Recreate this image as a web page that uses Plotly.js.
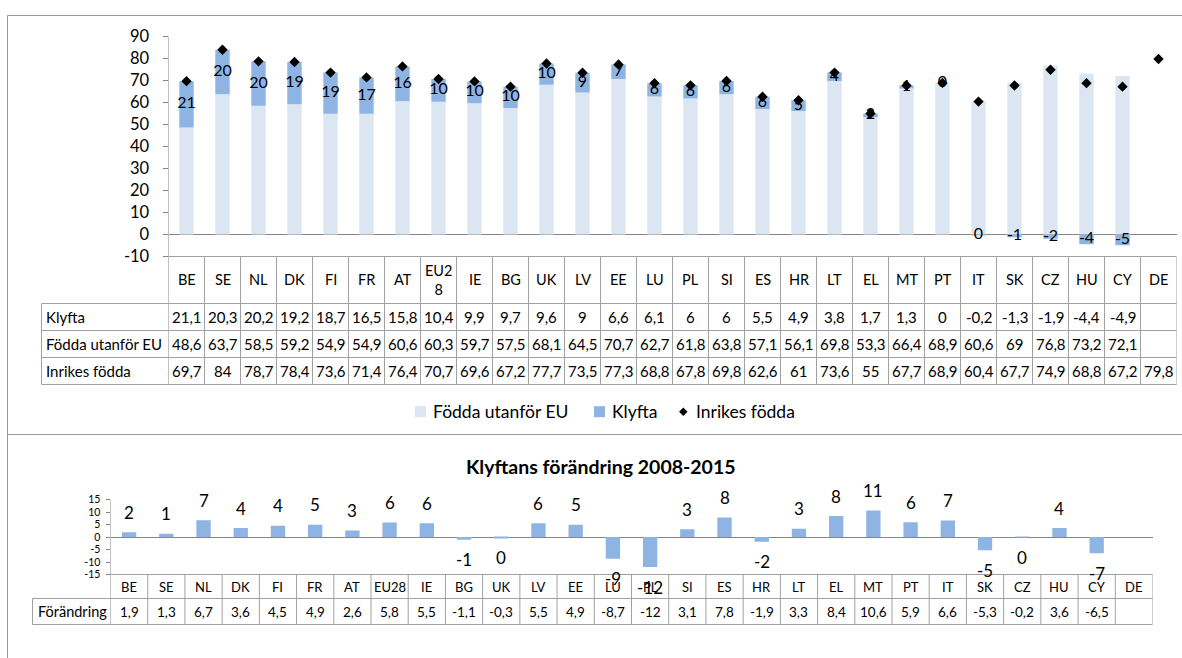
<!DOCTYPE html>
<html>
<head>
<meta charset="utf-8">
<script src="https://cdn.plot.ly/plotly-3.0.1.min.js"></script>
<style>
html,body{margin:0;padding:0;background:#fff;}
#chart{width:1182px;height:658px;}
</style>
</head>
<body>
<div id="chart"></div>
<script>
// ---------- DATA ----------
const countries = ['BE','SE','NL','DK','FI','FR','AT','EU28','IE','BG','UK','LV','EE','LU','PL','SI','ES','HR','LT','EL','MT','PT','IT','SK','CZ','HU','CY','DE'];
const topHeaderLabels = ['BE','SE','NL','DK','FI','FR','AT','EU2<br>8','IE','BG','UK','LV','EE','LU','PL','SI','ES','HR','LT','EL','MT','PT','IT','SK','CZ','HU','CY','DE'];
const bottomHeaderLabels = ['BE','SE','NL','DK','FI','FR','AT','EU28','IE','BG','UK','LV','EE','LU','PL','SI','ES','HR','LT','EL','MT','PT','IT','SK','CZ','HU','CY','DE'];

const klyfta         = [21.1,20.3,20.2,19.2,18.7,16.5,15.8,10.4,9.9,9.7,9.6,9,6.6,6.1,6,6,5.5,4.9,3.8,1.7,1.3,0,-0.2,-1.3,-1.9,-4.4,-4.9,null];
const foddaUtanforEU = [48.6,63.7,58.5,59.2,54.9,54.9,60.6,60.3,59.7,57.5,68.1,64.5,70.7,62.7,61.8,63.8,57.1,56.1,69.8,53.3,66.4,68.9,60.6,69,76.8,73.2,72.1,null];
const inrikesFodda   = [69.7,84,78.7,78.4,73.6,71.4,76.4,70.7,69.6,67.2,77.7,73.5,77.3,68.8,67.8,69.8,62.6,61,73.6,55,67.7,68.9,60.4,67.7,74.9,68.8,67.2,79.8];
const klyftaLabels   = ['21','20','20','19','19','17','16','10','10','10','10','9','7','6','6','6','6','5','4','2','1','0','0','-1','-2','-4','-5',''];

const forandring       = [1.9,1.3,6.7,3.6,4.5,4.9,2.6,5.8,5.5,-1.1,-0.3,5.5,4.9,-8.7,-12,3.1,7.8,-1.9,3.3,8.4,10.6,5.9,6.6,-5.3,-0.2,3.6,-6.5,null];
const forandringLabels = ['2','1','7','4','4','5','3','6','6','-1','0','6','5','-9','-12','3','8','-2','3','8','11','6','7','-5','0','4','-7',''];

const topTickVals = [-10,0,10,20,30,40,50,60,70,80,90];
const topTickText = ['-10','0','10','20','30','40','50','60','70','80','90'];
const bottomTickVals = [-15,-10,-5,0,5,10,15];
const bottomTickText = ['-15','-10','-5','0','5','10','15'];

const seriesNames = ['Födda utanför EU','Klyfta','Inrikes födda'];
const bottomRowName = 'Förändring';
const bottomTitle = 'Klyftans förändring 2008-2015';

// ---------- LAYOUT HELPERS ----------
const W = 1182, H = 658;
const px = x => x / W;
const py = y => 1 - y / H;
const FONT = 'Lato, "Open Sans", sans-serif';
const LINE = '#A0A0A0';
const AXIS = '#868686';
const LIGHT = '#DCE6F2';
const BLUE = '#8EB4E3';
const n = countries.length;
const fmt = v => (v === null || v === undefined) ? '' : String(v).replace('.', ',');

const TOP = {left:168.5, right:1176.5, top:36.5, bottom:256.5, rows:[256.5,303.5,330.5,357.5,384.5], labelLeft:41.5};
const BOT = {left:110.5, right:1152.5, top:499.5, bottom:574.5, rows:[574.5,598.5,624.5], labelLeft:32.5};

const shapes = [];
const annotations = [];

function pline(x0,y0,x1,y1,color){
  shapes.push({type:'line', xref:'paper', yref:'paper', x0:px(x0), y0:py(y0), x1:px(x1), y1:py(y1), line:{color:color||LINE, width:1}});
}

// outer frames
pline(7.5,15.5,1182,15.5,'#9A9A9A');
pline(7.5,15.5,7.5,658,'#9A9A9A');
pline(7.5,434.5,1182,434.5,'#9A9A9A');

// ---------- TOP TABLE ----------
for(let i=0;i<=n;i++){
  shapes.push({type:'line', xref:'x', yref:'paper', x0:i-0.5, x1:i-0.5,
    y0:py(i===0 ? TOP.top : TOP.rows[0]), y1:py(TOP.rows[4]), line:{color:i===0?AXIS:LINE, width:1}});
}
pline(TOP.left, TOP.rows[0], TOP.right, TOP.rows[0]);
for(let r=1;r<TOP.rows.length;r++) pline(TOP.labelLeft, TOP.rows[r], TOP.right, TOP.rows[r]);
pline(TOP.labelLeft, TOP.rows[1], TOP.labelLeft, TOP.rows[4]);

const topRowData = [klyfta, foddaUtanforEU, inrikesFodda];
const topRowNames = ['Klyfta','Födda utanför EU','Inrikes födda'];
countries.forEach((c,i)=>{
  annotations.push({xref:'x', yref:'paper', x:i, y:py((TOP.rows[0]+TOP.rows[1])/2), text:topHeaderLabels[i],
    showarrow:false, xanchor:'center', yanchor:'middle', font:{size:14.5, color:'#000'}});
  topRowData.forEach((arr,r)=>{
    annotations.push({xref:'x', yref:'paper', x:i, y:py((TOP.rows[r+1]+TOP.rows[r+2])/2), text:fmt(arr[i]),
      showarrow:false, xanchor:'center', yanchor:'middle', font:{size:15, color:'#000'}});
  });
});
topRowNames.forEach((nm,r)=>{
  annotations.push({xref:'paper', yref:'paper', x:px(44), y:py((TOP.rows[r+1]+TOP.rows[r+2])/2), text:nm,
    showarrow:false, xanchor:'left', yanchor:'middle', font:{size:15, color:'#000'}});
});

// ---------- TOP LEGEND ----------
const legY = 411.7;
shapes.push({type:'rect', xref:'paper', yref:'paper', x0:px(415), x1:px(426), y0:py(legY-5.5), y1:py(legY+5.5), fillcolor:LIGHT, line:{width:0}});
annotations.push({xref:'paper', yref:'paper', x:px(431), y:py(legY), text:seriesNames[0], showarrow:false, xanchor:'left', yanchor:'middle', font:{size:17.5,color:'#000'}});
shapes.push({type:'rect', xref:'paper', yref:'paper', x0:px(594), x1:px(605), y0:py(legY-5.5), y1:py(legY+5.5), fillcolor:BLUE, line:{width:0}});
annotations.push({xref:'paper', yref:'paper', x:px(610), y:py(legY), text:seriesNames[1], showarrow:false, xanchor:'left', yanchor:'middle', font:{size:17.5,color:'#000'}});
(function(){
  const cx=683.3, cy=legY, r=4.2;
  shapes.push({type:'path', xref:'paper', yref:'paper',
    path:`M${px(cx)},${py(cy-r)} L${px(cx+r)},${py(cy)} L${px(cx)},${py(cy+r)} L${px(cx-r)},${py(cy)} Z`,
    fillcolor:'#000', line:{width:0}});
})();
annotations.push({xref:'paper', yref:'paper', x:px(694), y:py(legY), text:seriesNames[2], showarrow:false, xanchor:'left', yanchor:'middle', font:{size:17.5,color:'#000'}});

// ---------- BOTTOM TITLE ----------
annotations.push({xref:'paper', yref:'paper', x:px(601), y:py(466), text:'<b>'+bottomTitle+'</b>', showarrow:false,
  xanchor:'center', yanchor:'middle', font:{size:19.5, color:'#000'}});

// ---------- BOTTOM TABLE ----------
for(let i=0;i<=n;i++){
  shapes.push({type:'line', xref:'x2', yref:'paper', x0:i-0.5, x1:i-0.5,
    y0:py(i===0 ? BOT.top : BOT.rows[0]), y1:py(BOT.rows[2]), line:{color:i===0?AXIS:LINE, width:1}});
}
pline(BOT.left, BOT.rows[0], BOT.right, BOT.rows[0]);
pline(BOT.labelLeft, BOT.rows[1], BOT.right, BOT.rows[1]);
pline(BOT.labelLeft, BOT.rows[2], BOT.right, BOT.rows[2]);
pline(BOT.labelLeft, BOT.rows[1], BOT.labelLeft, BOT.rows[2]);
countries.forEach((c,i)=>{
  annotations.push({xref:'x2', yref:'paper', x:i, y:py((BOT.rows[0]+BOT.rows[1])/2), text:bottomHeaderLabels[i],
    showarrow:false, xanchor:'center', yanchor:'middle', font:{size:13, color:'#000'}});
  annotations.push({xref:'x2', yref:'paper', x:i, y:py((BOT.rows[1]+BOT.rows[2])/2), text:fmt(forandring[i]),
    showarrow:false, xanchor:'center', yanchor:'middle', font:{size:13.5, color:'#000'}});
});
annotations.push({xref:'paper', yref:'paper', x:px(36), y:py((BOT.rows[1]+BOT.rows[2])/2), text:bottomRowName,
  showarrow:false, xanchor:'left', yanchor:'middle', font:{size:14.5, color:'#000'}});

// bottom data labels (outside end)
forandring.forEach((v,i)=>{
  if(v===null) return;
  annotations.push({xref:'x2', yref:'y2', x:i, y:v, text:forandringLabels[i], showarrow:false,
    xanchor:'center', yanchor:'middle', yshift: v>=0 ? 20 : -20, font:{size:17, color:'#000'}});
});

// ---------- TRACES ----------
const klyftaLabelY = klyfta.map((k,i)=> k===null ? null : (k>=0 ? foddaUtanforEU[i] + k/2 : k/2));
const traces = [
  {type:'bar', name:seriesNames[0], x:countries, y:foddaUtanforEU, xaxis:'x', yaxis:'y', width:0.4,
   marker:{color:LIGHT, line:{width:0}}},
  {type:'bar', name:seriesNames[1], x:countries, y:klyfta, xaxis:'x', yaxis:'y', width:0.4,
   marker:{color:BLUE, line:{width:0}}},
  {type:'scatter', mode:'markers', name:seriesNames[2], x:countries, y:inrikesFodda, xaxis:'x', yaxis:'y',
   marker:{symbol:'diamond', size:8, color:'#000'}},
  {type:'scatter', mode:'text', name:'Klyfta (etikett)', x:countries, y:klyftaLabelY, text:klyftaLabels,
   textposition:'middle center', xaxis:'x', yaxis:'y', cliponaxis:false, hoverinfo:'skip',
   textfont:{family:FONT, size:16, color:'#000'}},
  {type:'bar', name:bottomRowName, x:countries, y:forandring, xaxis:'x2', yaxis:'y2', width:0.385,
   marker:{color:BLUE, line:{width:0}}}
];

const layout = {
  width:W, height:H, margin:{l:0,r:0,t:0,b:0},
  paper_bgcolor:'#fff', plot_bgcolor:'rgba(0,0,0,0)',
  font:{family:FONT, color:'#000'},
  barmode:'relative', showlegend:false, hovermode:'closest',
  xaxis:{domain:[px(TOP.left), px(TOP.right)], anchor:'y', type:'category', categoryorder:'array', categoryarray:countries,
    range:[-0.5, n-0.5], showticklabels:false, ticks:'', showgrid:false, zeroline:false, showline:false, fixedrange:true},
  yaxis:{domain:[py(TOP.bottom), py(TOP.top)], anchor:'x', range:[-10,90], tickmode:'array',
    tickvals:topTickVals, ticktext:topTickText,
    ticks:'outside', ticklen:5, tickwidth:1, tickcolor:AXIS, showgrid:false, showline:false,
    zeroline:true, zerolinecolor:AXIS, zerolinewidth:1, ticklabelstandoff:10,
    tickfont:{family:FONT, size:16.5, color:'#000'}, fixedrange:true},
  xaxis2:{domain:[px(BOT.left), px(BOT.right)], anchor:'y2', type:'category', categoryorder:'array', categoryarray:countries,
    range:[-0.5, n-0.5], showticklabels:false, ticks:'', showgrid:false, zeroline:false, showline:false, fixedrange:true},
  yaxis2:{domain:[py(BOT.bottom), py(BOT.top)], anchor:'x2', range:[-15,15], tickmode:'array',
    tickvals:bottomTickVals, ticktext:bottomTickText,
    ticks:'outside', ticklen:4, tickwidth:1, tickcolor:AXIS, showgrid:false, showline:false,
    zeroline:true, zerolinecolor:AXIS, zerolinewidth:1, ticklabelstandoff:3,
    tickfont:{family:FONT, size:10.5, color:'#000'}, fixedrange:true},
  shapes:shapes,
  annotations:annotations
};

Plotly.newPlot('chart', traces, layout, {displayModeBar:false, staticPlot:false});
</script>
</body>
</html>
